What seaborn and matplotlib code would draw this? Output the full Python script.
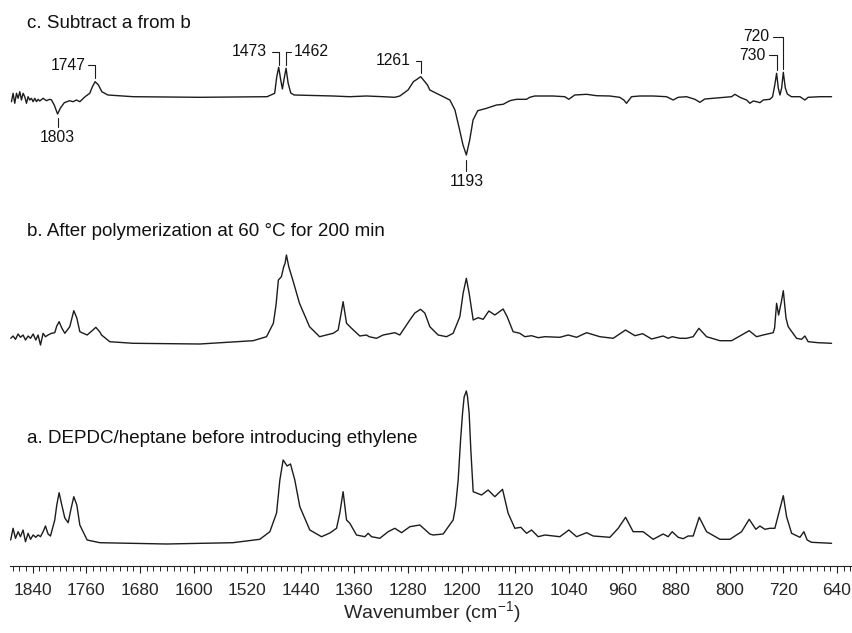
import matplotlib
matplotlib.use("Agg")
import matplotlib.pyplot as plt
from matplotlib.ticker import MultipleLocator
import pandas as pd
import seaborn as sns

# ---------------- data ----------------
wn_a = [1873, 1869.4, 1865.8, 1861.9, 1858.4, 1854.5, 1850.9, 1847, 1843.4, 1839.5, 1835.5, 1832.1, 1828.5,
        1824.6, 1821.1, 1817.2, 1813.6, 1807.2, 1804.2, 1800.7, 1796.7, 1792.2, 1787.2, 1783.3, 1778.8, 1774.3,
        1769.8, 1758.9, 1740, 1640.5, 1541.5, 1501.2, 1486.2, 1476.2, 1471.3, 1466.4, 1460.4, 1455.4, 1449,
        1441.5, 1426.6, 1409.1, 1396.7, 1386.7, 1381.8, 1376.9, 1371.8, 1366.9, 1356.9, 1344.5, 1339.5, 1334.5,
        1322.1, 1309.7, 1299.7, 1289.7, 1277.3, 1262.4, 1247.5, 1242.5, 1227.6, 1212.7, 1209.1, 1205.2, 1201.6,
        1198.7, 1196.3, 1193, 1191.2, 1188.8, 1186.3, 1182.8, 1170.3, 1160.5, 1150.5, 1139, 1130.6, 1120.6,
        1111.7, 1103.1, 1095.7, 1085.8, 1075.8, 1053.4, 1040, 1028.5, 1013.6, 1003.7, 978.8, 966.4, 955.4,
        944.1, 929.2, 914.2, 899.3, 891.8, 885.8, 876.9, 869.4, 862, 854.5, 845.5, 834.5, 814.6, 799.7, 782.3,
        770.9, 761, 755, 747.5, 740, 732.6, 720, 715.1, 707.6, 695.2, 689.3, 684.4, 677.8, 648]
int_a = [3, 14.7, 4.7, 11.3, 6.3, 13, 1.3, 9.7, 3.7, 8, 5.7, 8, 6.3,
         11.3, 17, 9, 7, 23, 38, 50.3, 38, 25, 20.3, 33, 46.3, 38,
         18, 3, 0.3, -1, 0.3, 3.7, 11.3, 30, 63, 83, 77, 79, 63,
         36.3, 13, 6.3, 10, 14.7, 30, 51.3, 23, 19.7, 8, 6.3, 9.7, 6.3,
         4.7, 11.3, 14.7, 10.3, 16.3, 18, 9, 8, 9, 23, 36.3, 63, 103,
         129.7, 146, 152, 146, 129.7, 93, 51.3, 48, 53, 46.3, 53.7, 29.7, 14.7,
         15.7, 9.7, 13, 6.3, 8, 6.3, 13, 6.3, 10.3, 7, 5.7, 14.7, 25.7,
         11.3, 11.3, 3.7, 9, 6.3, 11.3, 5.7, 4.3, 7, 7, 25.7, 11.3, 3.7, 3.7, 11.3,
         23.7, 13.7, 17, 13.7, 14.7, 14.7, 47.3, 26.3, 9.7, 5.7, 11.3, 3, 0.7, -0.3]

wn_b = [1872.8, 1869.4, 1865.8, 1861.9, 1858.4, 1854.5, 1850.9, 1847, 1843.4, 1839.5, 1835.5, 1832.1, 1828.5,
        1824.6, 1821.1, 1817.2, 1812.1, 1807.2, 1804.2, 1800.7, 1796.7, 1792.2, 1784.8, 1778.8, 1774.3, 1769.8,
        1758.9, 1751.9, 1745.9, 1739.9, 1737.4, 1725.1, 1690.3, 1590.8, 1511.2, 1491.2, 1481, 1477, 1473.5,
        1469, 1465.5, 1463.5, 1461.5, 1458, 1452, 1442, 1427, 1412, 1391.8, 1384.3, 1380.3, 1376.9, 1371.8,
        1364.3, 1352, 1342, 1338.1, 1327.1, 1317.2, 1299.7, 1292.3, 1277.3, 1269.9, 1261.4, 1255, 1247.5,
        1235.1, 1222.6, 1212.7, 1202.7, 1197.8, 1193, 1188.8, 1182.8, 1175.4, 1167.9, 1159.4, 1150.5, 1138.1,
        1132.1, 1123.2, 1113.2, 1105.7, 1095.7, 1085.8, 1075.8, 1053.4, 1041.1, 1028.5, 1013.6, 993.7, 973.9,
        955.4, 941.5, 929.9, 916.6, 899.3, 891.8, 885.8, 874.4, 864.4, 854.5, 846, 834.5, 814.6, 797.2, 784.8,
        770.9, 759.9, 750, 735.1, 733, 730, 727, 723, 720, 716, 712.7, 700.2, 692.7, 687.8, 682.9, 668, 648]
int_b = [4.7, 7, 3.7, 9, 5.7, 8, 3, 7, 4.7, 9, 3, 8, -2,
         9.7, 6.3, 8, 9.7, 10.3, 17, 21.3, 15, 9.7, 16.3, 32.3, 25, 11.3,
         8, 12, 15.7, 11, 8, 1.3, -0.3, -1, 2.3, 6.3, 19.7, 38, 63,
         66.3, 76.3, 79.7, 88, 76.3, 63, 39.7, 16.3, 6.3, 9.7, 13, 28, 41.3, 19.7,
         14.7, 7, 8, 6.3, 4.7, 8, 10.3, 8, 23, 30, 33.7, 30, 16.3,
         8, 6.3, 9.7, 26.3, 49.7, 64.7, 49.7, 23, 25.3, 23.7, 32, 28, 34,
         26.3, 11.3, 9.7, 6.3, 7.3, 5.3, 6.3, 5.7, 8, 5.7, 10.3, 6.3, 4.7,
         13, 7.3, 9.3, 4, 7, 4.7, 6.3, 4.7, 4.7, 6.3, 14.7, 6.3, 2.3, 2.3, 7,
         12.3, 6.3, 8, 10.3, 15, 39.7, 28, 41, 52.3, 25, 16.3, 4.7, 3.7, 7, 1.3, 0.3, -0.3]

wn_c = [1871.8, 1869.4, 1866.9, 1864.3, 1861.9, 1859.4, 1856.9, 1854.5, 1852, 1849.4, 1847, 1844.5, 1842,
        1839.5, 1837, 1834.5, 1832.1, 1829.6, 1824.6, 1819.6, 1814.6, 1812, 1808, 1803, 1799, 1793, 1785,
        1779.8, 1774.8, 1769.8, 1762, 1755, 1751, 1747, 1742, 1737, 1728, 1690.3, 1590.8, 1490.4, 1479, 1476,
        1473, 1470, 1467.5, 1465, 1462, 1459, 1455, 1450, 1391.8, 1367, 1342, 1317.2, 1299.7, 1292.3, 1280,
        1272, 1261, 1251, 1247.5, 1232.5, 1217.6, 1210, 1203, 1198, 1193, 1188, 1183, 1176, 1162.9, 1148,
        1138.1, 1128.1, 1118.2, 1103.3, 1098.4, 1090.9, 1063.6, 1046.1, 1040.2, 1031.3, 1013.6, 998.7, 978.8,
        964.2, 958, 954, 946.5, 934.1, 914.2, 894.2, 884.3, 876.9, 864.4, 852, 844.5, 837.1, 814.6, 797.2,
        792.2, 784.8, 774.8, 769.9, 764.9, 759.9, 754.9, 750, 740, 736, 733, 730, 727.5, 725, 722.5, 720, 717,
        714, 708, 695.2, 687.8, 682.9, 665.4, 648]
int_c = [-5.7, 2.7, -7.3, 2.7, -2.3, 4.3, -4, 2.7, -0.7, -7.3, -0.7, -4, -2.3,
         -5.7, -2.3, -5.7, -3.3, -5, -2.3, -4.7, -3.3, -4, -9, -18, -12.3, -6.7, -4.7,
         -5.7, -4, -5.7, -0.7, 2.7, 9.3, 14.3, 11, 4.3, 1, -0.7, -1.3, -0.7, 2.7, 19,
         28.7, 16, 7, 17, 27.7, 13, 3, 1, 0, -0.7, 0, -0.7, -1.3, 0, 6,
         14.3, 19.3, 11, 6, 1, -4, -14, -34, -49, -59, -44, -24, -14.7, -12.3, -9,
         -8.3, -4.7, -3.3, -3.3, -1.3, 0, 0, -0.7, -3.3, 1, 1.7, 0.3, 0,
         -1.3, -4, -7.3, -0.7, 0, 0, -0.7, -4, -1.3, -0.7, -3.3, -6.3, -3, -1.7, -0.7,
         1.7, -1.3, -4, -7.3, -5, -5.7, -6.7, -4, -3.3, -0.7, 10, 22.7, 8, 1, 8, 23.7, 8,
         2, -0.7, -0.7, -4, -1.3, -0.7, -0.7]

titles = ["a. DEPDC/heptane before introducing ethylene",
          "b. After polymerization at 60 \u00b0C for 200 min",
          "c. Subtract a from b"]
peak_labels = [1803, 1747, 1473, 1462, 1261, 1193, 730, 720]
tick_values = list(range(1840, 639, -80))

# ---------------- layout ----------------
offsets = {"a": 90, "b": 290, "c": 537}
title_y = {"a": 194.7, "b": 401.3, "c": 610}
line_color = "#1c1c1c"

sns.set_style("ticks")
plt.rcParams["font.family"] = ["Liberation Sans", "DejaVu Sans"]
plt.rcParams["mathtext.default"] = "regular"

fig = plt.figure(figsize=(8.53, 6.33), dpi=100)
ax = fig.add_axes([10 / 853, 67 / 633, 843 / 853, 566 / 633])

spectra = {"a": (wn_a, int_a), "b": (wn_b, int_b), "c": (wn_c, int_c)}
for key, (w, v) in spectra.items():
    assert len(w) == len(v), (key, len(w), len(v))
    df = pd.DataFrame({"wn": w, "val": [x + offsets[key] for x in v]})
    sns.lineplot(data=df, x="wn", y="val", ax=ax, color=line_color, linewidth=1.0,
                 sort=False, estimator=None)

ax.set_xlim(1874, 616)
ax.set_ylim(67, 633)

for key, t in zip(["a", "b", "c"], titles):
    ax.text(1849, title_y[key], t, ha="left", va="center", fontsize=13.5, color="#111111")

# peak annotation brackets in spectrum c
oc = offsets["c"]
lw_b = 0.8
lab_fs = 11.3
# (y_start, y_end, horizontal length (wn, + to the left), text x offset, side)
bracket_specs = {
    1747: (17.7, 31, 11, 14, "left"),
    1473: (31, 44.3, 10, 17.5, "left"),
    1462: (31, 44.3, -7.5, -12, "right"),
    1261: (22.7, 35.3, 7.5, 15, "left"),
    730: (26, 41, 11, 16, "left"),
    720: (27, 59.5, 16, 21, "left"),
}
below_specs = {1803: (-22, -31, -41), 1193: (-64, -74.7, -85.7)}

for lab in peak_labels:
    if lab in bracket_specs:
        y0, y1, hl, tx, side = bracket_specs[lab]
        ax.plot([lab, lab, lab + hl], [oc + y0, oc + y1, oc + y1], color=line_color, lw=lw_b)
        ax.text(lab + tx, oc + y1, str(lab), ha="right" if side == "left" else "left",
                va="center", fontsize=lab_fs, color="#111111")
    else:
        y0, y1, ty = below_specs[lab]
        ax.plot([lab, lab], [oc + y0, oc + y1], color=line_color, lw=lw_b)
        ax.text(lab, oc + ty, str(lab), ha="center", va="center", fontsize=lab_fs, color="#111111")

# axes styling
sns.despine(ax=ax, left=True, top=True, right=True)
ax.set_yticks([])
ax.set_ylabel("")
ax.set_xticks(tick_values)
ax.set_xticklabels([str(v) for v in tick_values])
ax.xaxis.set_minor_locator(MultipleLocator(10))
ax.tick_params(axis="x", which="major", length=5, width=0.8, direction="out",
               labelsize=12.5, pad=7, color="#222222")
ax.tick_params(axis="x", which="minor", length=3.5, width=0.7, direction="out", color="#222222")
ax.spines["bottom"].set_linewidth(0.8)
ax.spines["bottom"].set_color("#222222")
ax.set_xlabel("Wavenumber (cm$^{-1}$)", fontsize=14, labelpad=1)

fig.savefig("out.png", dpi=100)
